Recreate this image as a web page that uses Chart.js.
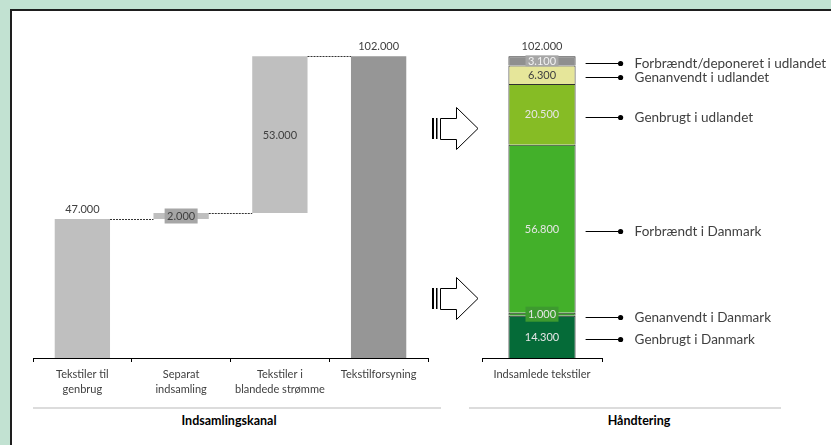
<!DOCTYPE html>
<html><head><meta charset="utf-8">
<script src="https://cdn.jsdelivr.net/npm/chart.js@4.4.1/dist/chart.umd.min.js"></script>
<style>
html,body{margin:0;padding:0;}
body{width:831px;height:445px;background:#c2e2d2;position:relative;overflow:hidden;font-family:Lato,sans-serif;}
#frame{position:absolute;left:10px;top:9px;width:840px;height:450px;background:#fff;border-left:2px solid #1e1e1e;border-top:2px solid #1e1e1e;}
canvas,svg{position:absolute;left:0;top:0;}
.sep{position:absolute;height:0;border-top:2px solid #dcdcdc;top:407px;}
.title{position:absolute;top:413px;font-weight:bold;font-size:12.5px;color:#000;transform:translateX(-50%);white-space:nowrap;}
</style></head>
<body>
<div id="frame"></div>
<div class="sep" style="left:33px;width:408px"></div>
<div class="sep" style="left:469px;width:312px"></div>
<div class="title" style="left:229px">Indsamlingskanal</div>
<div class="title" style="left:639px">Håndtering</div>
<svg width="831" height="445">
  <g id="arr">
    <rect x="432" y="118" width="2" height="21" fill="#000"/>
    <rect x="436" y="118" width="1.5" height="21" fill="#000"/>
    <path d="M440.5 118.5 H456.5 V107.5 L478 128.5 L456.5 149.5 V139.5 H440.5 Z" fill="#fff" stroke="#000" stroke-width="1"/>
  </g>
  <use href="#arr" transform="translate(0,170)"/>
</svg>
<canvas id="c1" width="831" height="445"></canvas>
<canvas id="c2" width="831" height="445"></canvas>
<script>
// ---- data ----
const categories = [['Tekstiler til','genbrug'], ['Separat','indsamling'], ['Tekstiler i','blandede strømme'], 'Tekstilforsyning'];
const flowValues = [47000, 2000, 53000];
const supplyTotal = 102000;
const handlingCategory = ['Indsamlede tekstiler'];
const handlingSeries = ['Genbrugt i Danmark','Genanvendt i Danmark','Forbrændt i Danmark','Genbrugt i udlandet','Genanvendt i udlandet','Forbrændt/deponeret i udlandet'];
const handlingValues = [14300, 1000, 56800, 20500, 6300, 3100];
const yMax = 120000;

// ---- helpers ----
const fmt = v => String(v).replace(/\B(?=(\d{3})+(?!\d))/g, '.');
const FONT = 'Lato, sans-serif';
const TXT = '#404040';

let run = 0;
const floating = flowValues.map(v => { const r = [run, run + v]; run += v; return r; });
floating.push([0, supplyTotal]);

function box(ctx, cx, cy, w, h, color) {
  ctx.fillStyle = color;
  ctx.fillRect(cx - w / 2, cy - h / 2, w, h);
}

const xAxisCommon = {
  grid: { drawOnChartArea: false, tickLength: 4, color: '#000', lineWidth: 1 },
  border: { display: true, color: '#000', width: 1 },
  ticks: { color: TXT, font: { family: FONT, size: 11, lineHeight: 1.45 }, padding: 4, maxRotation: 0, autoSkip: false },
  afterFit(scale) { scale.height = 50; }
};

// ---- left: waterfall ----
const waterfallPlugin = {
  id: 'wf',
  afterDatasetsDraw(chart) {
    const ctx = chart.ctx, y = chart.scales.y, meta = chart.getDatasetMeta(0);
    ctx.save();
    ctx.strokeStyle = '#333'; ctx.lineWidth = 1; ctx.setLineDash([2, 1]);
    for (let i = 0; i < meta.data.length - 1; i++) {
      const a = meta.data[i], b = meta.data[i + 1];
      const py = Math.round(y.getPixelForValue(floating[i][1])) + 0.5;
      ctx.beginPath(); ctx.moveTo(a.x + a.width / 2, py); ctx.lineTo(b.x - b.width / 2, py); ctx.stroke();
    }
    ctx.setLineDash([]);
    ctx.font = '11px ' + FONT; ctx.textAlign = 'center'; ctx.textBaseline = 'middle';
    meta.data.forEach((el, i) => {
      const [s, e] = floating[i];
      const top = y.getPixelForValue(e), bot = y.getPixelForValue(s);
      let ty = (top + bot) / 2;
      if (i === 0 || i === floating.length - 1) ty = top - 10;
      if (i === 1) box(ctx, el.x, ty, 33, 15, '#a6a6a6');
      ctx.fillStyle = TXT;
      ctx.fillText(fmt(e - s), el.x, ty + 0.5);
    });
    ctx.restore();
  }
};

new Chart(document.getElementById('c1'), {
  type: 'bar',
  data: {
    labels: categories,
    datasets: [{
      data: floating,
      backgroundColor: floating.map((_, i) => i === floating.length - 1 ? '#969696' : '#bfbfbf'),
      borderWidth: 0,
      barPercentage: 0.56,
      categoryPercentage: 1
    }]
  },
  options: {
    responsive: false, animation: false, devicePixelRatio: 1,
    events: [],
    layout: { padding: { left: 33, right: 403, top: 3, bottom: 37 } },
    plugins: { legend: { display: false }, tooltip: { enabled: false } },
    scales: {
      x: xAxisCommon,
      y: { display: false, min: 0, max: yMax }
    }
  },
  plugins: [waterfallPlugin]
});

// ---- right: stacked handling ----
const segColors = ['#056b38', '#3a9a2c', '#43b02a', '#86bc25', '#e6e69a', '#8f8f8f'];
const labelStyle = [
  { color: '#e6e6e6' },
  { color: '#e6e6e6', box: '#3d9a2f' },
  { color: '#e6e6e6' },
  { color: '#e6e6e6' },
  { color: TXT },
  { color: '#f2f2f2', box: '#a6a6a6' }
];

const handlingPlugin = {
  id: 'hd',
  afterDatasetsDraw(chart) {
    const ctx = chart.ctx, y = chart.scales.y;
    ctx.save();
    ctx.textAlign = 'center'; ctx.textBaseline = 'middle';
    let cum = 0, barX = 0, barRight = 0;
    handlingValues.forEach((v, i) => {
      const el = chart.getDatasetMeta(i).data[0];
      barX = el.x; barRight = el.x + el.width / 2;
      const top = y.getPixelForValue(cum + v), bot = y.getPixelForValue(cum);
      const cy = (top + bot) / 2;
      cum += v;
      const st = labelStyle[i];
      if (st.box) box(ctx, el.x, cy, 33, i === 5 ? 11 : 15, st.box);
      ctx.font = '11px ' + FONT;
      ctx.fillStyle = st.color;
      ctx.fillText(fmt(v), el.x, cy + 0.5);
      // annotation
      const ay = Math.round(cy + 2.5) + 0.5;
      ctx.strokeStyle = '#000'; ctx.lineWidth = 1;
      ctx.beginPath(); ctx.moveTo(barRight + 10, ay); ctx.lineTo(barRight + 45, ay); ctx.stroke();
      ctx.fillStyle = '#000';
      ctx.beginPath(); ctx.arc(barRight + 45, ay, 2.6, 0, Math.PI * 2); ctx.fill();
      ctx.font = '13.5px ' + FONT; ctx.textAlign = 'left'; ctx.fillStyle = TXT;
      ctx.fillText(handlingSeries[i], barRight + 59, ay + 0.5);
      ctx.textAlign = 'center';
    });
    ctx.font = '11px ' + FONT; ctx.fillStyle = TXT;
    ctx.fillText(fmt(cum), barX, y.getPixelForValue(cum) - 10);
    ctx.restore();
  }
};

new Chart(document.getElementById('c2'), {
  type: 'bar',
  data: {
    labels: handlingCategory,
    datasets: handlingSeries.map((name, i) => ({
      label: name,
      data: [handlingValues[i]],
      backgroundColor: segColors[i],
      borderColor: '#303030',
      borderWidth: 1,
      barPercentage: 0.56,
      categoryPercentage: 1
    }))
  },
  options: {
    responsive: false, animation: false, devicePixelRatio: 1,
    events: [],
    layout: { padding: { left: 482, right: 229, top: 3, bottom: 37 } },
    plugins: { legend: { display: false }, tooltip: { enabled: false } },
    scales: {
      x: Object.assign({}, xAxisCommon, { stacked: true }),
      y: { display: false, stacked: true, min: 0, max: yMax }
    }
  },
  plugins: [handlingPlugin]
});
</script>
</body></html>
